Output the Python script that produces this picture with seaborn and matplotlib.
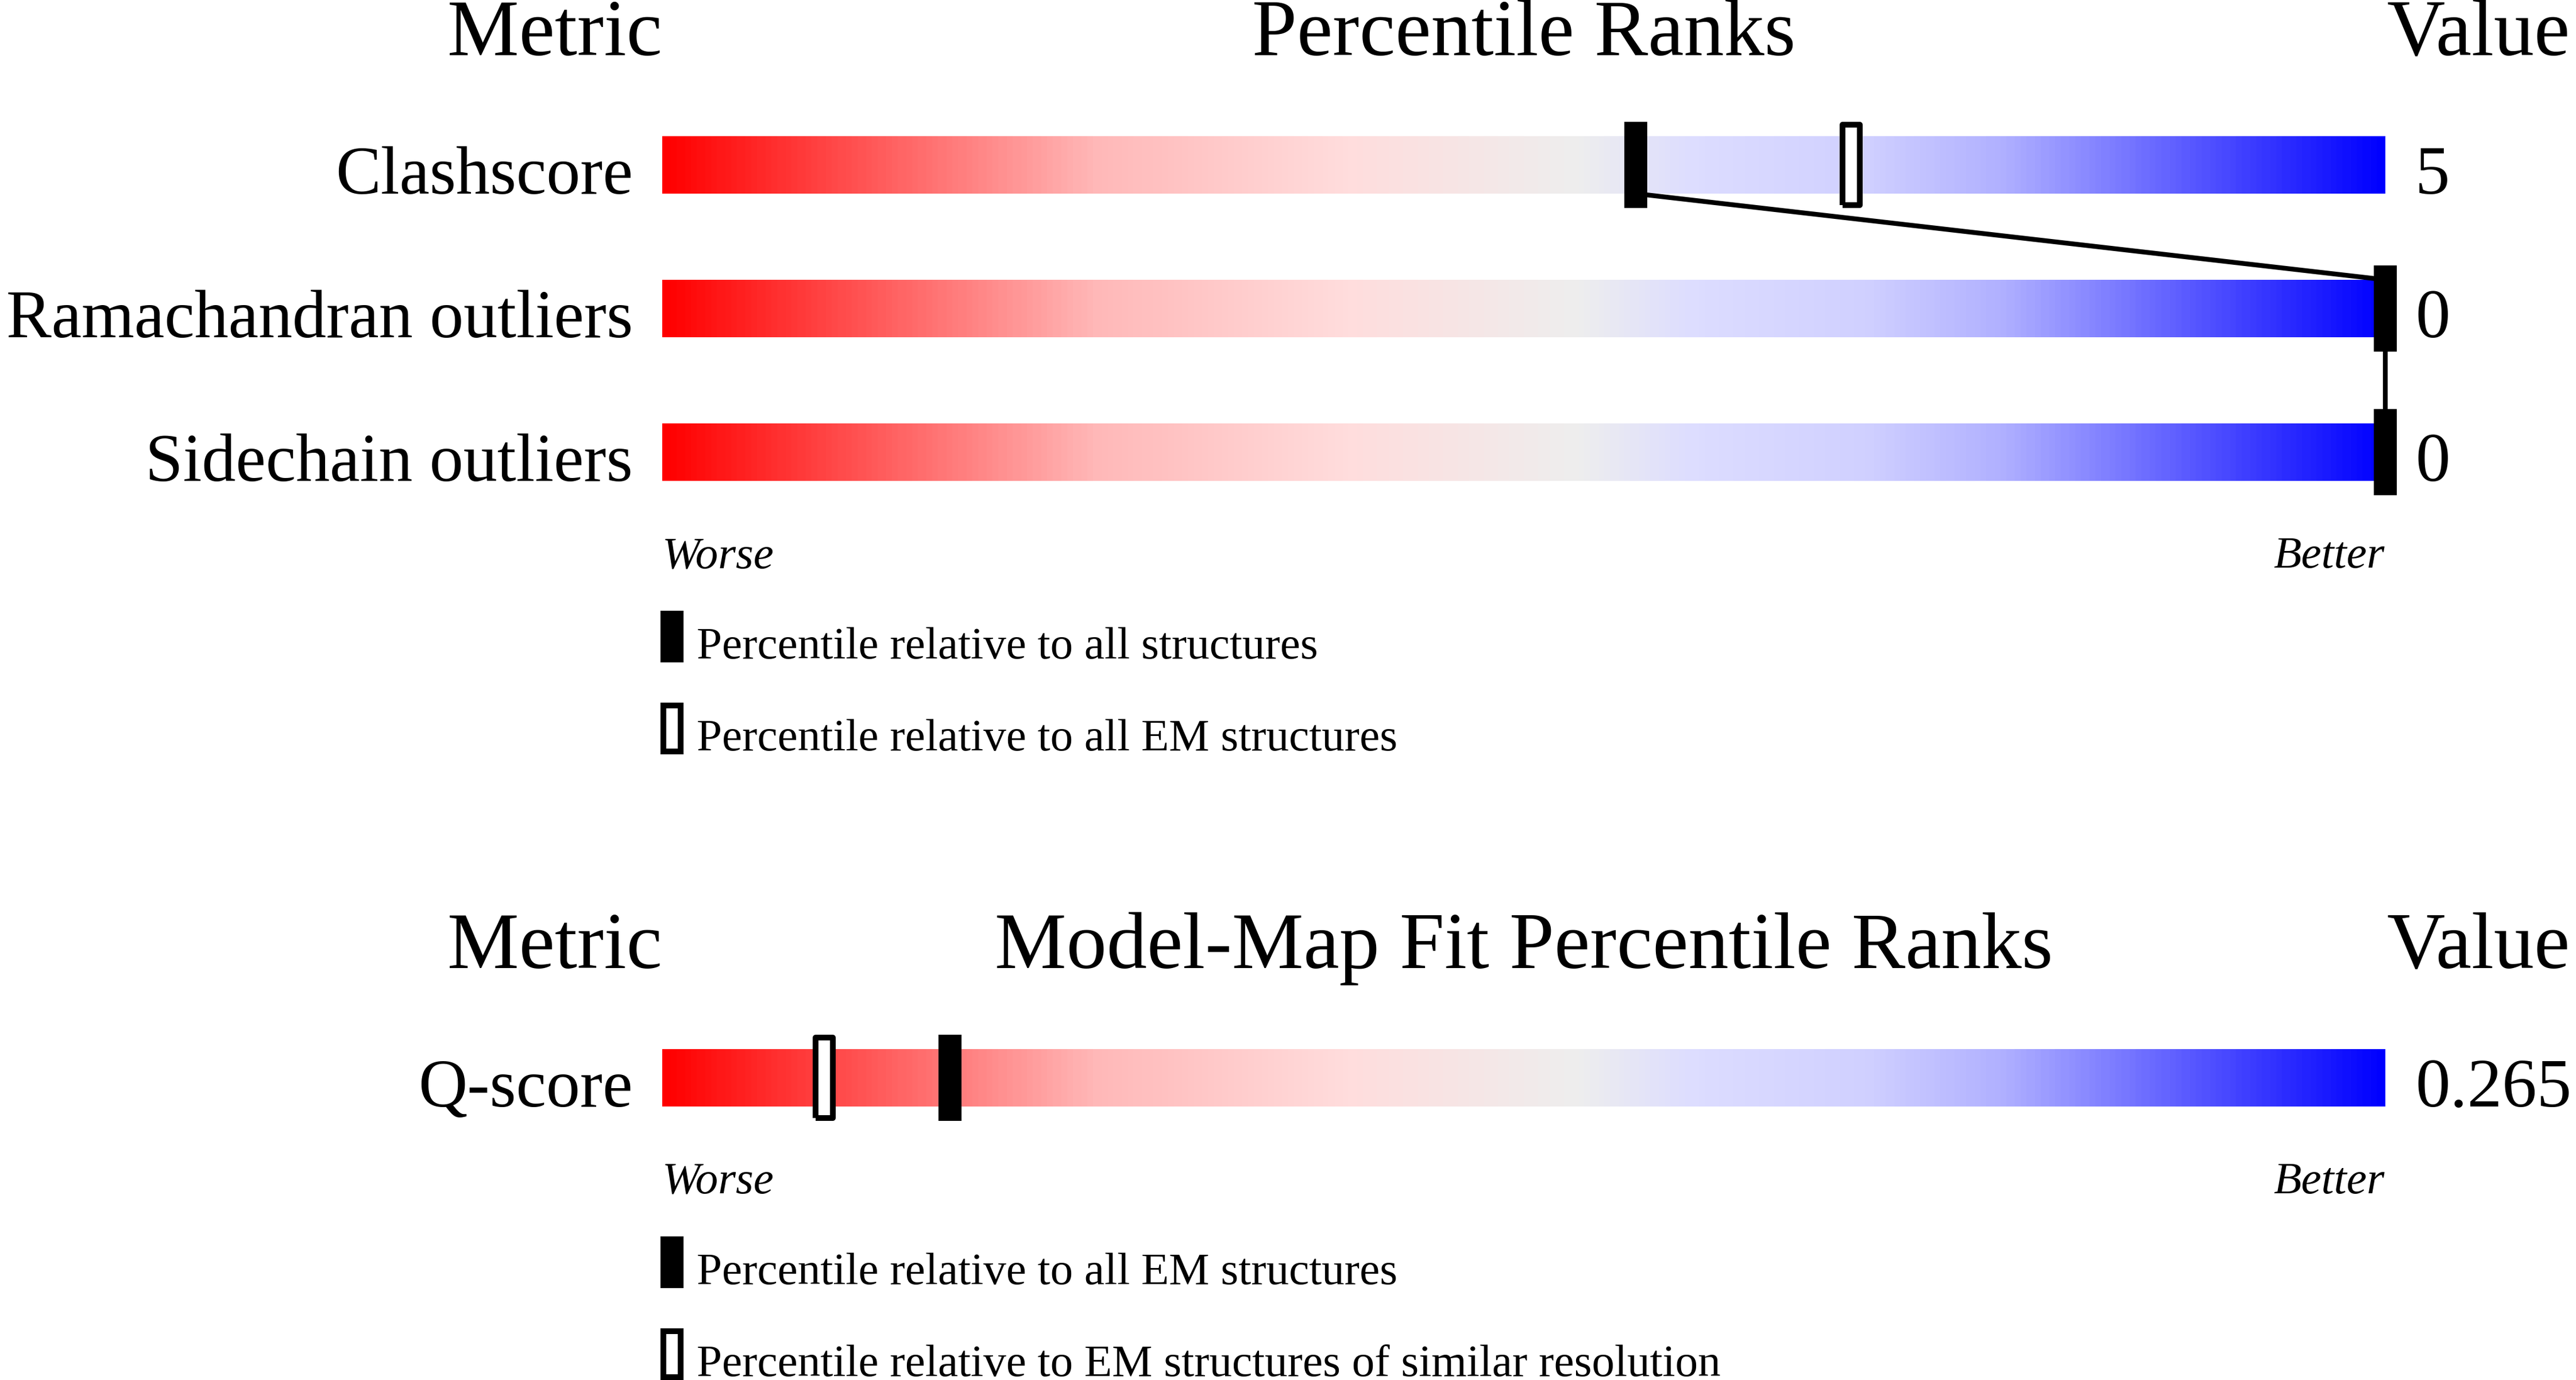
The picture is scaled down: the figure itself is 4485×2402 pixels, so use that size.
import numpy as np
import pandas as pd
import seaborn as sns
import matplotlib.pyplot as plt
from matplotlib.colors import LinearSegmentedColormap
from matplotlib.patches import Rectangle

# geometry / model quality sliders
geo_metrics = ["Clashscore", "Ramachandran outliers", "Sidechain outliers"]
geo_values = ["5", "0", "0"]
geo_pct_all = [56.5, 100, 100]        # percentile vs all structures
geo_pct_em = [69, np.nan, np.nan]     # percentile vs all EM structures
geo_legend = ["Percentile relative to all structures",
              "Percentile relative to all EM structures"]

# model-map fit sliders
fit_metrics = ["Q-score"]
fit_values = ["0.265"]
fit_pct_em = [16.7]                   # percentile vs all EM structures
fit_pct_res = [9.4]                   # percentile vs EM structures of similar resolution
fit_legend = ["Percentile relative to all EM structures",
              "Percentile relative to EM structures of similar resolution"]

sns.set_style("white", rc={"text.color": "black"})
plt.rcParams["font.family"] = ["Liberation Serif", "DejaVu Serif"]

W, H = 4485, 2402
fig = plt.figure(figsize=(W / 100, H / 100), dpi=100)


def fx(px):
    return px / W


def fy(py):
    return 1 - py / H


slider = LinearSegmentedColormap.from_list("slider", [
    (0.0, "#ff0000"), (0.25, "#ffb8b8"), (0.4, "#ffdddd"), (0.53, "#eeeeee"),
    (0.6, "#ddddff"), (0.7, "#d0d0ff"), (0.78, "#b0b0ff"), (1.0, "#0000ff")])
grad = np.linspace(0, 1, 600).reshape(1, -1)

filled_mk = [(-0.1333, -0.5), (0.1333, -0.5), (0.1333, 0.5), (-0.1333, 0.5),
             (-0.1333, -0.5)]
open_mk = [(-0.107, -0.5), (0.107, -0.5), (0.107, 0.5), (-0.107, 0.5),
           (-0.107, -0.5)]

BAR_L, BAR_W, ROW = 1153, 3000, 250


def panel(top, title, metrics, values, pct_fill, pct_open, legend):
    n = len(metrics)
    ax = fig.add_axes([fx(BAR_L), fy(top + ROW * n), BAR_W / W, ROW * n / H])
    rows = np.arange(n)
    for i in rows:
        ax.imshow(grad, cmap=slider, aspect="auto",
                  extent=(0, 100, i + 0.2, i - 0.2), zorder=0)

    # line joining the filled markers from one bar to the next
    xs = np.repeat(pct_fill, 2)
    ys = np.ravel([[i - 0.2, i + 0.2] for i in rows])
    ax.plot(xs, ys, color="black", lw=6, zorder=2, clip_on=False,
            solid_joinstyle="round")

    df = pd.DataFrame({"pct": pct_fill, "open": pct_open, "row": rows})
    sns.scatterplot(data=df, x="open", y="row", marker=open_mk, s=100.8 ** 2,
                    color="white", edgecolor="black", linewidth=7.2,
                    ax=ax, zorder=3, clip_on=False)
    sns.scatterplot(data=df, x="pct", y="row", marker=filled_mk, s=108 ** 2,
                    color="black", edgecolor="black", linewidth=0,
                    ax=ax, zorder=4, clip_on=False)

    for i in rows:
        ax.text(-1.7, i + 0.2, metrics[i], ha="right", va="baseline", fontsize=85)
        ax.text(101.73, i + 0.2, values[i], ha="left", va="baseline", fontsize=87)

    ax.set_xlim(0, 100)
    ax.set_ylim(n - 0.5, -0.5)
    ax.axis("off")

    # headers
    hb = top + ROW / 2 - 50 - 141
    fig.text(fx(1153), fy(hb), "Metric", ha="right", va="baseline", fontsize=101)
    fig.text(fx(2653), fy(hb), title, ha="center", va="baseline", fontsize=101)
    fig.text(fx(4155), fy(hb), "Value", ha="left", va="baseline", fontsize=101)

    # worse / better
    bar_bottom = top + ROW * (n - 1) + ROW / 2 + 50
    fig.text(fx(1153), fy(bar_bottom + 151), "Worse", ha="left", va="baseline",
             fontsize=57, style="italic")
    fig.text(fx(4152), fy(bar_bottom + 151), "Better", ha="right", va="baseline",
             fontsize=57, style="italic")

    # legend
    for k, lab in enumerate(legend):
        mtop = bar_bottom + 226 + 160 * k
        if k == 0:
            fig.patches.append(Rectangle((fx(1150), fy(mtop + 90)), 40 / W, 90 / H,
                                         facecolor="black", edgecolor="none",
                                         transform=fig.transFigure, figure=fig))
        else:
            fig.patches.append(Rectangle((fx(1155), fy(mtop + 85)), 30 / W, 80 / H,
                                         facecolor="white", edgecolor="black",
                                         linewidth=7.2, joinstyle="miter",
                                         transform=fig.transFigure, figure=fig))
        fig.text(fx(1213), fy(mtop + 83), lab, ha="left", va="baseline", fontsize=57)


panel(162, "Percentile Ranks", geo_metrics, geo_values, geo_pct_all, geo_pct_em, geo_legend)
panel(1751, "Model-Map Fit Percentile Ranks", fit_metrics, fit_values, fit_pct_em,
      fit_pct_res, fit_legend)

fig.savefig("out.png", dpi=100)
